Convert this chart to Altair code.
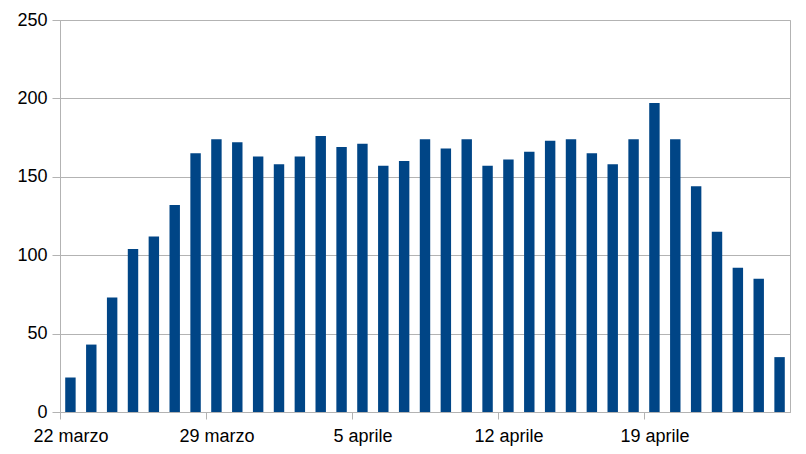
import altair as alt
import pandas as pd

days = [
    "22 marzo", "23 marzo", "24 marzo", "25 marzo", "26 marzo", "27 marzo", "28 marzo",
    "29 marzo", "30 marzo", "31 marzo", "1 aprile", "2 aprile", "3 aprile", "4 aprile",
    "5 aprile", "6 aprile", "7 aprile", "8 aprile", "9 aprile", "10 aprile", "11 aprile",
    "12 aprile", "13 aprile", "14 aprile", "15 aprile", "16 aprile", "17 aprile", "18 aprile",
    "19 aprile", "20 aprile", "21 aprile", "22 aprile", "23 aprile", "24 aprile", "25 aprile",
]
values = [
    22, 43, 73, 104, 112, 132, 165,
    174, 172, 163, 158, 163, 176, 169,
    171, 157, 160, 174, 168, 174, 157,
    161, 166, 173, 174, 165, 158, 174,
    197, 174, 144, 115, 92, 85, 35,
]
shown_labels = ["22 marzo", "29 marzo", "5 aprile", "12 aprile", "19 aprile"]
y_ticks = [0, 50, 100, 150, 200, 250]

df = pd.DataFrame({"day": days, "value": values})

grey = "#b3b3b3"
font = "Liberation Sans"

chart = alt.Chart(df).mark_bar(color="#004586").encode(
    x=alt.X(
        "day:N",
        sort=days,
        scale=alt.Scale(paddingInner=0.5, paddingOuter=0.25),
        axis=alt.Axis(
            title=None,
            values=shown_labels,
            labelAngle=0,
            tickOffset=-10.4,
            labelOffset=10.4,
            tickColor=grey,
            tickSize=7,
            domainColor=grey,
            labelFont=font,
            labelFontSize=18,
            labelColor="#000000",
            labelPadding=8,
            grid=False,
        ),
    ),
    y=alt.Y(
        "value:Q",
        scale=alt.Scale(domain=[0, 250]),
        axis=alt.Axis(
            title=None,
            values=y_ticks,
            tickColor=grey,
            tickSize=8,
            domainColor=grey,
            gridColor=grey,
            labelFont=font,
            labelFontSize=18,
            labelColor="#000000",
            labelPadding=5,
        ),
    ),
).properties(
    width=730,
    height=392,
    autosize=alt.AutoSizeParams(type="none"),
    padding={"left": 52, "top": 12, "right": 8, "bottom": 40},
).configure_view(
    stroke=grey,
    strokeWidth=1,
)

chart.save("out.html", embed_options={"renderer": "svg", "actions": False})
